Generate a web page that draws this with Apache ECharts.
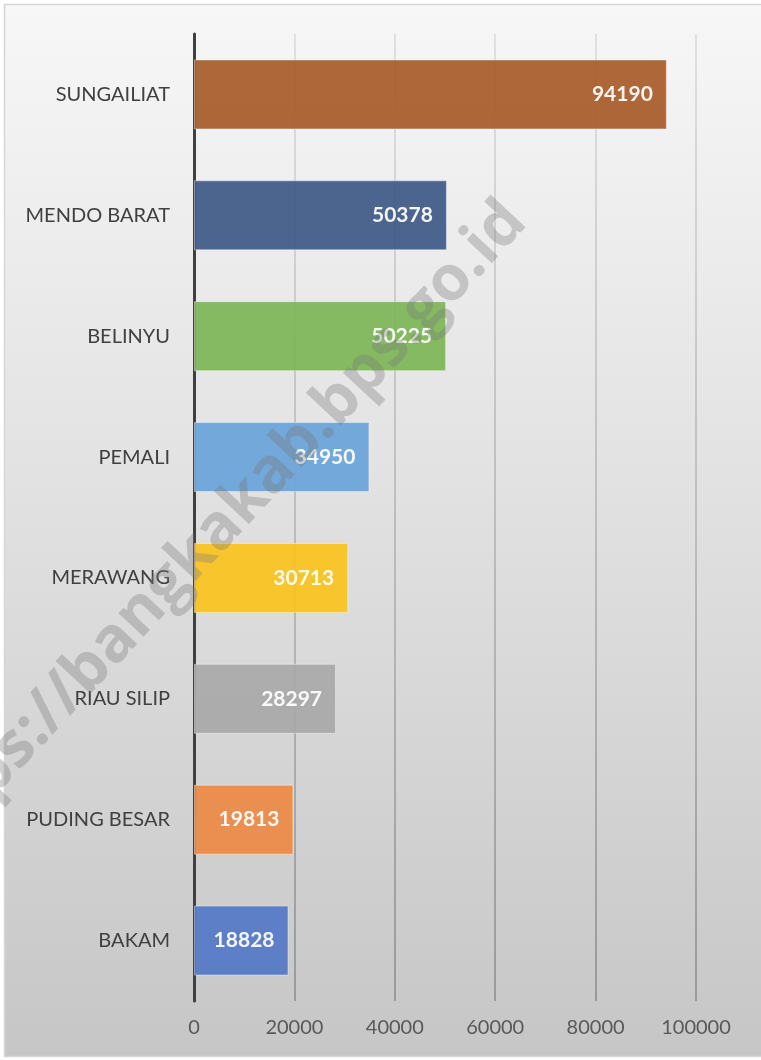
<!DOCTYPE html>
<html>
<head>
<meta charset="utf-8">
<script src="https://cdn.jsdelivr.net/npm/echarts@6/dist/echarts.min.js"></script>
<style>
  html, body { margin: 0; padding: 0; background: #fff; }
  #main { width: 761px; height: 1060px; }
</style>
</head>
<body>
<div id="main"></div>
<script>
// data, top to bottom
var kecamatan = ["SUNGAILIAT", "MENDO BARAT", "BELINYU", "PEMALI", "MERAWANG", "RIAU SILIP", "PUDING BESAR", "BAKAM"];
var jumlah = [94190, 50378, 50225, 34950, 30713, 28297, 19813, 18828];
var warna = ["#a75b2a", "#3f5a88", "#7db657", "#6aa4d9", "#fbc31f", "#a9a9a9", "#ec8a46", "#5479c7"];
var xTicks = [0, 20000, 40000, 60000, 80000, 100000];

var myChart = echarts.init(document.getElementById("main"));

var barData = jumlah.map(function (v, i) {
  return { value: v, itemStyle: { color: warna[i] } };
});

var option = {
  animation: false,
  graphic: [
    {
      // background + border
      type: "rect",
      z: -10,
      shape: { x: 4.5, y: 4.5, width: 800, height: 1052 },
      style: {
        fill: {
          type: "linear", x: 0, y: 0, x2: 0, y2: 1,
          colorStops: [
            { offset: 0, color: "#f7f7f7" },
            { offset: 0.45, color: "#e2e2e2" },
            { offset: 1, color: "#c6c6c6" }
          ]
        },
        stroke: "#d6d6d6",
        lineWidth: 1.5
      }
    },
    {
      // watermark
      type: "text",
      z: 100,
      x: 214,
      y: 535,
      rotation: 47 * Math.PI / 180,
      style: {
        text: "https://bangkakab.bps.go.id",
        font: "bold 63px 'Open Sans'",
        fill: "rgba(120,120,120,0.34)",
        textAlign: "center",
        textVerticalAlign: "middle"
      }
    }
  ],
  grid: { left: 194, right: 65, top: 34, bottom: 59 },
  xAxis: {
    type: "value",
    min: 0,
    max: 100000,
    interval: 20000,
    axisLine: { show: false },
    axisTick: { show: false },
    axisLabel: {
      color: "#595959",
      fontFamily: "Lato",
      fontSize: 20,
      margin: 17,
      formatter: function (v) { return xTicks.indexOf(v) >= 0 ? String(v) : ""; }
    },
    splitLine: {
      show: true,
      lineStyle: {
        width: 1.5,
        color: {
          type: "linear", global: true, x: 0, y: 34, x2: 0, y2: 1001,
          colorStops: [
            { offset: 0, color: "#d8d8d8" },
            { offset: 1, color: "#8a8a8a" }
          ]
        }
      }
    }
  },
  yAxis: {
    type: "category",
    inverse: true,
    data: kecamatan,
    axisLine: { show: true, lineStyle: { color: "#404040", width: 3 } },
    axisTick: { show: false },
    axisLabel: {
      color: "#404040",
      fontFamily: "Lato",
      fontSize: 20,
      margin: 24
    }
  },
  series: [
    {
      type: "bar",
      barWidth: 70,
      data: barData,
      itemStyle: {
        opacity: 0.93,
        borderColor: "rgba(255,255,255,0.45)",
        borderWidth: 1
      },
      label: {
        show: true,
        position: "insideRight",
        distance: 14,
        color: "#ffffff",
        fontFamily: "Lato",
        fontWeight: "bold",
        fontSize: 21
      }
    }
  ]
};

myChart.setOption(option);
</script>
</body>
</html>
